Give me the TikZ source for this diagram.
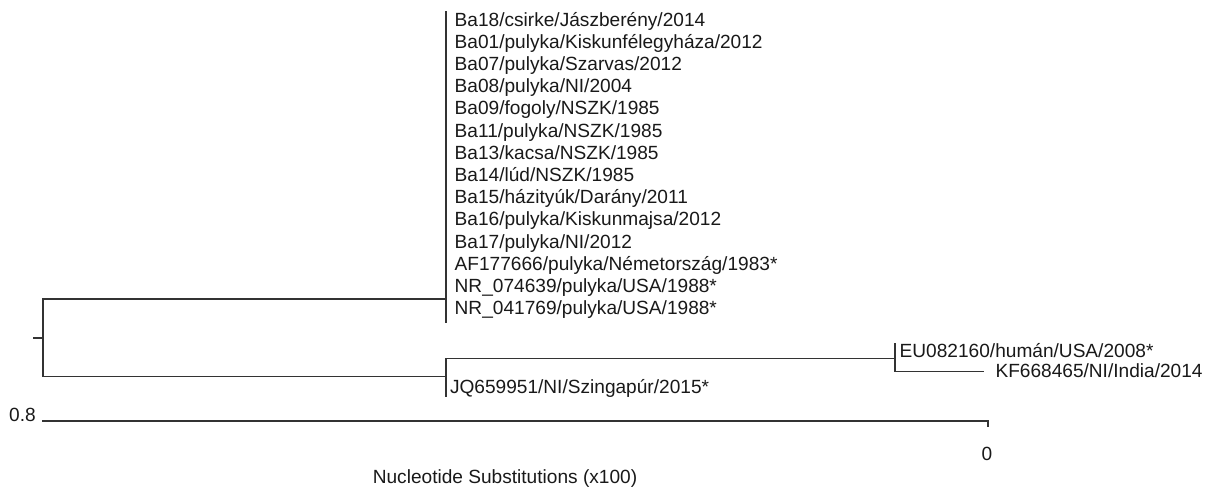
\documentclass[tikz,border=0pt]{standalone}
\usepackage{fontspec}
\setmainfont{Liberation Sans}
\begin{document}
\begin{tikzpicture}[x=1pt,y=-1pt,
  branch/.style={draw=black!80,line width=1.5pt,line cap=rect},
  leaf/.style={anchor=base west,inner sep=0pt,text=black!90,font=\fontsize{19.1}{22}\selectfont},
  scaletxt/.style={inner sep=0pt,text=black!90,font=\fontsize{19.1}{22}\selectfont}]
\useasboundingbox (0,0) rectangle (1210,488);
% junction coordinates
\coordinate (rootL) at (34,338);
\coordinate (root) at (43,338);
\coordinate (rA) at (43,299);
\coordinate (rB) at (43,376.5);
\coordinate (A) at (446,299);
\coordinate (Atop) at (446,12);
\coordinate (Abot) at (446,322);
\coordinate (B) at (446,376.5);
\coordinate (Btop) at (446,358.5);
\coordinate (Bbot) at (446,396);
\coordinate (C) at (895,358.5);
\coordinate (Ctop) at (895,343.5);
\coordinate (Cbot) at (895,371.5);
\coordinate (KFend) at (983,371.5);
\coordinate (s0) at (43,421);
\coordinate (s1) at (988,421);
\coordinate (s1t) at (988,426);
% tree
\draw[branch] (rootL) -- (root);
\draw[branch] (rA) -- (rB);
\draw[branch] (rA) -- (A);
\draw[branch] (Atop) -- (Abot);
\draw[branch] (rB) -- (B);
\draw[branch] (Btop) -- (Bbot);
\draw[branch] (Btop) -- (C);
\draw[branch] (Ctop) -- (Cbot);
\draw[branch] (Cbot) -- (KFend);
% labels upper clade
\foreach \t [count=\i from 0] in {Ba18/csirke/Jászberény/2014,Ba01/pulyka/Kiskunfélegyháza/2012,Ba07/pulyka/Szarvas/2012,Ba08/pulyka/NI/2004,Ba09/fogoly/NSZK/1985,Ba11/pulyka/NSZK/1985,Ba13/kacsa/NSZK/1985,Ba14/lúd/NSZK/1985,Ba15/házityúk/Darány/2011,Ba16/pulyka/Kiskunmajsa/2012,Ba17/pulyka/NI/2012,AF177666/pulyka/Németország/1983*,NR\_074639/pulyka/USA/1988*,NR\_041769/pulyka/USA/1988*}
  \node[leaf] (L\i) at (454.5,{26+22.2*\i}) {\t};
\node[leaf] (JQ) at (449.8,393) {JQ659951/NI/Szingapúr/2015*};
\node[leaf] (EU) at (899.5,357.5) {EU082160/humán/USA/2008*};
\node[leaf] (KF) at (995.3,377.5) {KF668465/NI/India/2014};
% scale bar
\draw[branch] (s0) -- (s1) -- (s1t);
\node[scaletxt,anchor=base east] (s08) at (36,421) {0.8};
\node[scaletxt,anchor=base] (s00) at (987,460) {0};
\node[scaletxt,anchor=base] (xlab) at (505,483) {Nucleotide Substitutions (x100)};
\end{tikzpicture}
\end{document}
